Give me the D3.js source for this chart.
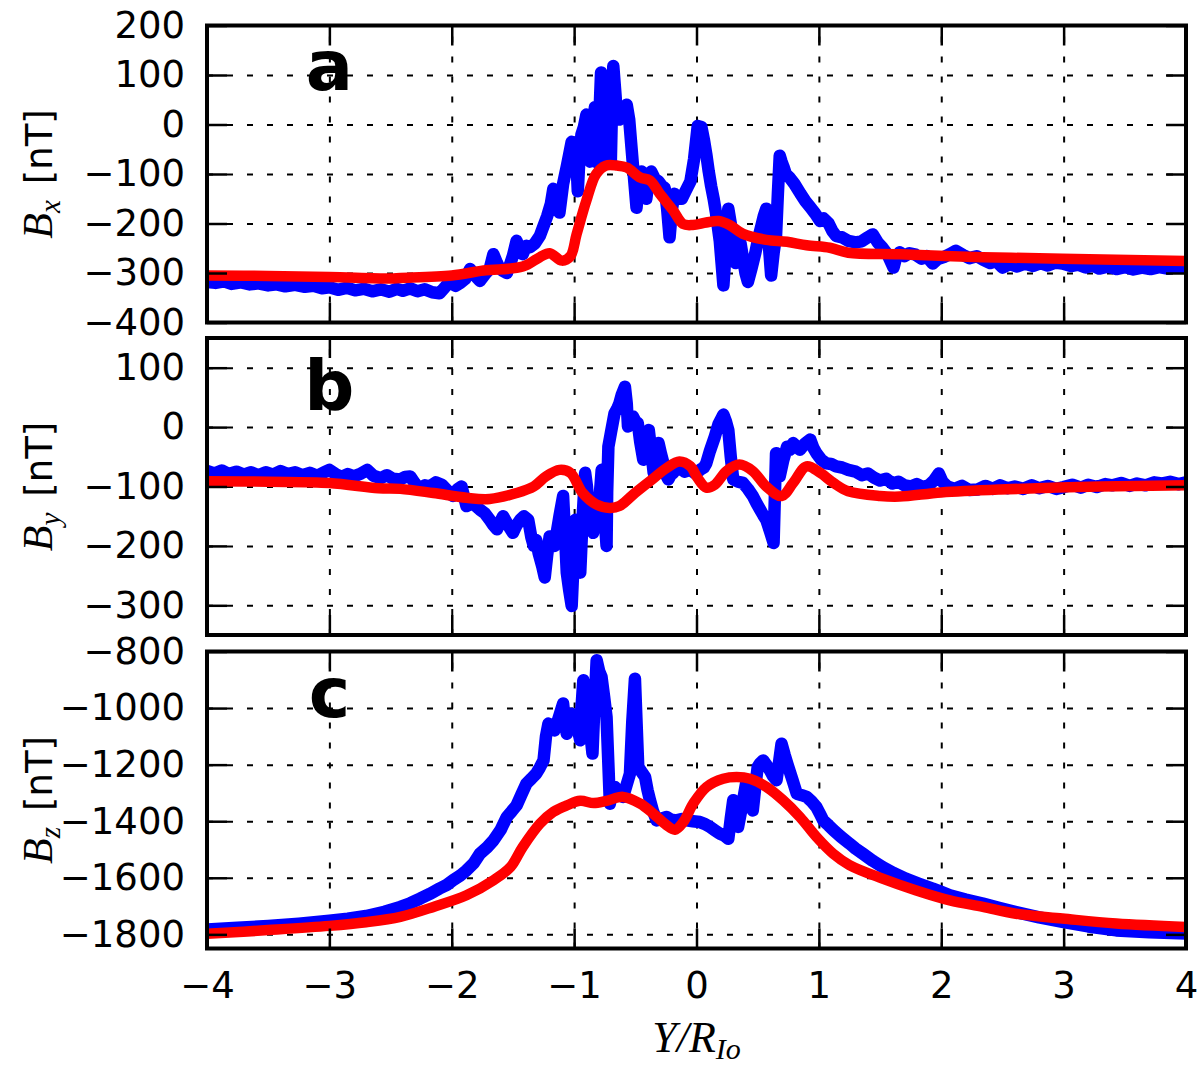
<!DOCTYPE html>
<html>
<head>
<meta charset="utf-8">
<script src="https://cdn.jsdelivr.net/npm/d3@7"></script>
<style>
  body { margin: 0; background: #fff; }
  svg { display: block; }
</style>
</head>
<body>
<div id="chart"></div>
<script>
// valores: [Y/R_Io, B en nT]
const xTicks = [-4, -3, -2, -1, 0, 1, 2, 3, 4];

const bxTicks = [-400, -300, -200, -100, 0, 100, 200];
const byTicks = [-300, -200, -100, 0, 100];
const bzTicks = [-1800, -1600, -1400, -1200, -1000, -800];

// Bx observado (azul)
const bxObs = [
  [-4.00, -318], [-3.93, -320], [-3.86, -317], [-3.80, -322], [-3.72, -319], [-3.65, -323],
  [-3.58, -321], [-3.50, -325], [-3.43, -323], [-3.36, -327], [-3.28, -324], [-3.20, -328],
  [-3.13, -326], [-3.06, -331], [-3.00, -329], [-2.93, -334], [-2.86, -330], [-2.79, -335],
  [-2.72, -332], [-2.65, -337], [-2.58, -333], [-2.51, -338], [-2.45, -332], [-2.40, -336],
  [-2.34, -331], [-2.28, -337], [-2.22, -333], [-2.16, -339], [-2.10, -341], [-2.06, -330],
  [-2.02, -318], [-1.97, -326], [-1.93, -320], [-1.89, -312], [-1.85, -292], [-1.81, -305],
  [-1.77, -316], [-1.72, -300], [-1.69, -292], [-1.66, -262], [-1.63, -280], [-1.61, -290],
  [-1.58, -296], [-1.55, -300], [-1.52, -280], [-1.50, -265], [-1.47, -235], [-1.44, -255],
  [-1.42, -262], [-1.39, -245], [-1.36, -248], [-1.32, -240], [-1.28, -225], [-1.25, -205],
  [-1.22, -185], [-1.19, -160], [-1.17, -130], [-1.14, -150], [-1.12, -178], [-1.09, -120],
  [-1.06, -85], [-1.04, -60], [-1.02, -35], [-0.99, -60], [-0.98, -80], [-0.97, -135],
  [-0.955, -60], [-0.94, -20], [-0.92, -5], [-0.90, 20], [-0.885, -20], [-0.87, -75],
  [-0.85, -10], [-0.83, 35], [-0.815, -30], [-0.80, -80], [-0.79, 40], [-0.78, 105],
  [-0.76, 60], [-0.745, 90], [-0.735, 85], [-0.72, 20], [-0.70, -75], [-0.69, 40],
  [-0.68, 118], [-0.665, 70], [-0.65, 20], [-0.63, 10], [-0.60, 30], [-0.57, 40],
  [-0.55, 10], [-0.53, -50], [-0.51, -110], [-0.49, -168], [-0.47, -110], [-0.45, -95],
  [-0.43, -120], [-0.41, -150], [-0.39, -110], [-0.37, -95], [-0.34, -110], [-0.31, -115],
  [-0.28, -125], [-0.26, -128], [-0.24, -170], [-0.22, -228], [-0.20, -170], [-0.18, -140],
  [-0.15, -150], [-0.12, -150], [-0.09, -135], [-0.05, -115], [-0.02, -70], [0.01, -3],
  [0.04, -5], [0.06, -30], [0.08, -60], [0.10, -95], [0.12, -125], [0.14, -150],
  [0.16, -180], [0.19, -235], [0.205, -280], [0.22, -325], [0.24, -250], [0.26, -170],
  [0.28, -200], [0.30, -235], [0.32, -280], [0.34, -265], [0.36, -240], [0.38, -270],
  [0.40, -300], [0.42, -318], [0.45, -290], [0.48, -260], [0.505, -230], [0.53, -205],
  [0.55, -185], [0.57, -170], [0.59, -240], [0.61, -305], [0.63, -260], [0.65, -225],
  [0.665, -140], [0.68, -63], [0.695, -75], [0.71, -85], [0.73, -100], [0.76, -107],
  [0.80, -120], [0.85, -140], [0.89, -155], [0.93, -167], [0.97, -180], [1.01, -195],
  [1.04, -190], [1.08, -200], [1.11, -215], [1.14, -225], [1.19, -228], [1.24, -235],
  [1.30, -238], [1.35, -236], [1.40, -228], [1.44, -222], [1.48, -238], [1.52, -249],
  [1.56, -262], [1.61, -289], [1.63, -270], [1.66, -258], [1.70, -266], [1.74, -260],
  [1.79, -263], [1.84, -271], [1.88, -266], [1.93, -281], [1.97, -272], [2.02, -268],
  [2.07, -262], [2.12, -255], [2.18, -264], [2.23, -270], [2.29, -266], [2.34, -273],
  [2.40, -280], [2.45, -276], [2.50, -289], [2.56, -282], [2.62, -287], [2.68, -281],
  [2.75, -286], [2.81, -280], [2.87, -285], [2.93, -279], [2.99, -281], [3.06, -286],
  [3.12, -283], [3.18, -289], [3.24, -285], [3.29, -291], [3.36, -287], [3.43, -292],
  [3.50, -288], [3.57, -293], [3.64, -289], [3.71, -292], [3.78, -288], [3.85, -291],
  [3.92, -288], [4.00, -289]
];

// Bx modelo (rojo)
const bxModel = [
  [-4.0, -305], [-3.5, -306], [-3.0, -308], [-2.5, -311], [-2.42, -310], [-2.0, -305],
  [-1.74, -295], [-1.42, -287], [-1.28, -268], [-1.20, -260], [-1.10, -275], [-1.03, -266],
  [-0.98, -222], [-0.90, -154], [-0.82, -100], [-0.74, -83], [-0.65, -83], [-0.57, -87],
  [-0.46, -107], [-0.38, -113], [-0.30, -140], [-0.19, -174], [-0.11, -201], [-0.03, -203],
  [0.08, -198], [0.18, -195], [0.27, -203], [0.38, -221], [0.57, -233], [0.74, -237],
  [0.90, -244], [1.09, -249], [1.24, -259], [1.66, -262], [2.34, -268], [2.99, -271],
  [4.0, -276]
];

// By observado (azul)
const byObs = [
  [-4.00, -74], [-3.94, -78], [-3.88, -73], [-3.82, -79], [-3.76, -75], [-3.70, -80],
  [-3.64, -76], [-3.58, -81], [-3.52, -76], [-3.46, -80], [-3.40, -74], [-3.34, -79],
  [-3.28, -76], [-3.22, -81], [-3.16, -77], [-3.10, -82], [-3.04, -76], [-3.00, -72],
  [-2.95, -79], [-2.90, -84], [-2.85, -79], [-2.80, -83], [-2.74, -78], [-2.69, -72],
  [-2.64, -82], [-2.58, -86], [-2.53, -81], [-2.48, -87], [-2.42, -88], [-2.38, -84],
  [-2.34, -83], [-2.30, -95], [-2.26, -105], [-2.22, -98], [-2.18, -100], [-2.13, -93],
  [-2.08, -97], [-2.03, -108], [-1.99, -116], [-1.95, -104], [-1.92, -100], [-1.88, -133],
  [-1.83, -128], [-1.77, -139], [-1.73, -145], [-1.69, -156], [-1.66, -165], [-1.63, -172],
  [-1.60, -158], [-1.58, -150], [-1.54, -165], [-1.50, -178], [-1.47, -165], [-1.44, -156],
  [-1.41, -150], [-1.375, -156], [-1.35, -185], [-1.33, -200], [-1.31, -190], [-1.29, -212],
  [-1.26, -235], [-1.24, -253], [-1.22, -215], [-1.20, -184], [-1.18, -195], [-1.16, -200],
  [-1.12, -150], [-1.09, -116], [-1.075, -180], [-1.06, -245], [-1.04, -275], [-1.02, -301],
  [-1.005, -230], [-0.99, -156], [-0.97, -200], [-0.95, -245], [-0.93, -150], [-0.91, -77],
  [-0.895, -100], [-0.885, -133], [-0.865, -160], [-0.845, -178], [-0.82, -150], [-0.80, -133],
  [-0.785, -100], [-0.775, -72], [-0.755, -140], [-0.735, -200], [-0.73, -110], [-0.72, -33],
  [-0.70, -10], [-0.67, 23], [-0.65, 30], [-0.63, 40], [-0.61, 55], [-0.585, 68],
  [-0.57, 40], [-0.56, 1], [-0.54, 10], [-0.52, 18], [-0.50, 10], [-0.48, 7],
  [-0.46, -25], [-0.435, -55], [-0.41, -25], [-0.39, -5], [-0.37, -40], [-0.35, -77],
  [-0.33, -45], [-0.31, -27], [-0.29, -45], [-0.27, -61], [-0.25, -80], [-0.23, -88],
  [-0.21, -80], [-0.19, -77], [-0.165, -70], [-0.14, -66], [-0.10, -75], [-0.05, -72],
  [-0.01, -78], [0.03, -72], [0.06, -68], [0.08, -61], [0.11, -40], [0.15, -16],
  [0.18, 5], [0.22, 21], [0.24, 10], [0.26, -5], [0.28, -50], [0.30, -88],
  [0.34, -92], [0.38, -94], [0.42, -104], [0.46, -116], [0.49, -128], [0.52, -139],
  [0.545, -148], [0.57, -156], [0.60, -175], [0.63, -195], [0.64, -120], [0.65, -44],
  [0.665, -60], [0.68, -83], [0.71, -55], [0.74, -33], [0.765, -38], [0.79, -27],
  [0.815, -32], [0.845, -38], [0.885, -28], [0.93, -21], [0.955, -35], [0.98, -44],
  [1.02, -55], [1.06, -61], [1.10, -62], [1.14, -66], [1.19, -68], [1.24, -72],
  [1.30, -75], [1.35, -81], [1.40, -78], [1.45, -85], [1.50, -90], [1.55, -87],
  [1.60, -95], [1.65, -92], [1.70, -98], [1.75, -100], [1.80, -96], [1.85, -101],
  [1.90, -98], [1.94, -90], [1.98, -78], [2.01, -92], [2.05, -100], [2.11, -104],
  [2.17, -99], [2.23, -106], [2.30, -105], [2.36, -99], [2.42, -104], [2.48, -98],
  [2.54, -103], [2.60, -100], [2.67, -104], [2.74, -98], [2.80, -103], [2.87, -99],
  [2.94, -104], [3.00, -101], [3.07, -97], [3.14, -102], [3.20, -97], [3.27, -101],
  [3.34, -96], [3.40, -98], [3.47, -94], [3.54, -99], [3.60, -95], [3.67, -98],
  [3.74, -93], [3.80, -95], [3.87, -92], [3.94, -96], [4.00, -93]
];

// By modelo (rojo)
const byModel = [
  [-4.0, -91], [-3.5, -92], [-3.0, -94], [-2.6, -103], [-2.42, -104], [-2.15, -111],
  [-1.88, -119], [-1.69, -121], [-1.47, -111], [-1.33, -100], [-1.23, -83], [-1.12, -72],
  [-1.03, -77], [-0.93, -111], [-0.82, -130], [-0.71, -136], [-0.63, -133], [-0.52, -114],
  [-0.38, -91], [-0.245, -69], [-0.14, -58], [-0.05, -66], [0.01, -86], [0.08, -102],
  [0.15, -97], [0.245, -74], [0.35, -63], [0.46, -74], [0.57, -100], [0.695, -116],
  [0.79, -94], [0.90, -66], [1.01, -77], [1.12, -94], [1.24, -108], [1.50, -116],
  [1.66, -117], [2.0, -110], [2.48, -105], [3.3, -100], [4.0, -98]
];

// Bz observado (azul)
const bzObs = [
  [-4.0, -1783], [-3.75, -1777], [-3.5, -1770], [-3.25, -1762], [-3.0, -1752], [-2.85, -1745],
  [-2.7, -1735], [-2.55, -1720], [-2.42, -1703], [-2.34, -1690], [-2.26, -1674], [-2.18, -1657],
  [-2.10, -1638], [-2.04, -1625], [-1.99, -1609], [-1.93, -1592], [-1.88, -1574], [-1.82, -1548],
  [-1.77, -1515], [-1.71, -1492], [-1.66, -1468], [-1.60, -1430], [-1.55, -1385], [-1.51, -1365],
  [-1.47, -1344], [-1.43, -1305], [-1.39, -1267], [-1.35, -1250], [-1.31, -1232], [-1.28, -1210],
  [-1.25, -1185], [-1.23, -1100], [-1.21, -1055], [-1.185, -1075], [-1.16, -1079], [-1.13, -1040],
  [-1.09, -984], [-1.075, -1050], [-1.06, -1091], [-1.04, -1050], [-1.02, -1020], [-1.00, -1040],
  [-0.98, -1055], [-0.965, -1085], [-0.95, -1114], [-0.94, -1000], [-0.925, -902], [-0.905, -960],
  [-0.885, -1020], [-0.865, -1100], [-0.85, -1161], [-0.835, -1000], [-0.816, -831], [-0.795, -870],
  [-0.776, -890], [-0.755, -960], [-0.735, -1032], [-0.72, -1200], [-0.708, -1338], [-0.69, -1300],
  [-0.667, -1279], [-0.635, -1300], [-0.60, -1314], [-0.57, -1270], [-0.544, -1232], [-0.525, -1050],
  [-0.503, -896], [-0.49, -1050], [-0.476, -1208], [-0.45, -1225], [-0.42, -1244], [-0.40, -1290],
  [-0.38, -1326], [-0.355, -1365], [-0.326, -1397], [-0.285, -1390], [-0.245, -1385], [-0.205, -1395],
  [-0.163, -1397], [-0.12, -1392], [-0.081, -1397], [-0.03, -1400], [0.028, -1403], [0.07, -1410],
  [0.11, -1420], [0.15, -1432], [0.19, -1444], [0.225, -1450], [0.26, -1462], [0.28, -1390],
  [0.30, -1326], [0.32, -1370], [0.34, -1420], [0.375, -1340], [0.41, -1255], [0.435, -1310],
  [0.46, -1362], [0.48, -1280], [0.50, -1208], [0.52, -1195], [0.545, -1185], [0.57, -1200],
  [0.60, -1220], [0.625, -1240], [0.654, -1255], [0.675, -1190], [0.695, -1126], [0.72, -1165],
  [0.75, -1208], [0.785, -1255], [0.82, -1303], [0.86, -1308], [0.90, -1314], [0.94, -1330],
  [0.98, -1350], [1.01, -1375], [1.035, -1397], [1.08, -1415], [1.12, -1432], [1.18, -1455],
  [1.25, -1479], [1.30, -1497], [1.36, -1515], [1.44, -1540], [1.52, -1562], [1.61, -1583],
  [1.71, -1603], [1.82, -1621], [1.93, -1638], [2.00, -1650], [2.07, -1662], [2.20, -1677],
  [2.34, -1691], [2.47, -1706], [2.61, -1721], [2.80, -1740], [2.99, -1756], [3.20, -1772],
  [3.43, -1786], [3.70, -1793], [4.0, -1797]
];

// Bz modelo (rojo)
const bzModel = [
  [-4.0, -1798], [-3.5, -1785], [-3.0, -1770], [-2.7, -1757], [-2.42, -1738], [-2.15, -1703],
  [-1.88, -1662], [-1.66, -1609], [-1.52, -1562], [-1.42, -1491], [-1.28, -1409], [-1.17, -1367],
  [-1.06, -1344], [-0.95, -1328], [-0.84, -1336], [-0.735, -1328], [-0.60, -1314], [-0.46, -1338],
  [-0.354, -1373], [-0.245, -1414], [-0.177, -1430], [-0.108, -1403], [-0.027, -1338], [0.082, -1279],
  [0.218, -1250], [0.327, -1244], [0.437, -1250], [0.572, -1279], [0.708, -1326], [0.845, -1385],
  [0.981, -1456], [1.117, -1515], [1.25, -1555], [1.52, -1603], [1.79, -1644], [2.07, -1680],
  [2.34, -1703], [2.61, -1727], [2.99, -1744], [3.43, -1762], [4.0, -1774]
];

// medidas de la figura
const width = 1200;
const height = 1068;
const margin = { left: 207, right: 14 };
const panelH = 297;

const paneles = [
  { top: 25.5, dominio: [-400, 200], ticks: bxTicks, obs: bxObs, modelo: bxModel, comp: 'x', letra: 'a', letraY: 64 },
  { top: 338, dominio: [-350, 150], ticks: byTicks, obs: byObs, modelo: byModel, comp: 'y', letra: 'b', letraY: 72 },
  { top: 651.5, dominio: [-1850, -800], ticks: bzTicks, obs: bzObs, modelo: bzModel, comp: 'z', letra: 'c', letraY: 65 }
];

const svg = d3.select('#chart')
  .append('svg')
  .attr('width', width)
  .attr('height', height)
  .attr('viewBox', [0, 0, width, height])
  .style('background', '#fff');

const x = d3.scaleLinear()
  .domain([-4, 4])
  .range([margin.left, width - margin.right]);

const plotW = x.range()[1] - x.range()[0];
const fmt = d3.format('');

paneles.forEach((p, i) => {
  const y = d3.scaleLinear().domain(p.dominio).range([p.top + panelH, p.top]);
  const g = svg.append('g');

  // rejilla punteada
  g.append('g')
    .attr('transform', `translate(${margin.left},0)`)
    .call(d3.axisLeft(y).tickValues(p.ticks).tickSize(-plotW).tickFormat(''))
    .call(s => s.select('.domain').remove())
    .selectAll('line')
    .attr('stroke', '#000').attr('stroke-width', 2).attr('stroke-dasharray', '6,14');

  g.append('g')
    .attr('transform', `translate(0,${p.top + panelH})`)
    .call(d3.axisBottom(x).tickValues(xTicks).tickSize(-panelH).tickFormat(''))
    .call(s => s.select('.domain').remove())
    .selectAll('line')
    .attr('stroke', '#000').attr('stroke-width', 2).attr('stroke-dasharray', '6,14');

  // curvas
  const clipId = 'clip' + i;
  svg.append('clipPath').attr('id', clipId)
    .append('rect')
    .attr('x', margin.left).attr('y', p.top)
    .attr('width', plotW).attr('height', panelH);

  const lineaObs = d3.line().x(d => x(d[0])).y(d => y(d[1]));
  const lineaMod = d3.line().x(d => x(d[0])).y(d => y(d[1])).curve(d3.curveCatmullRom.alpha(0.5));

  g.append('path')
    .datum(p.obs)
    .attr('clip-path', `url(#${clipId})`)
    .attr('d', lineaObs)
    .attr('fill', 'none')
    .attr('stroke', '#0000ff')
    .attr('stroke-width', 12.5)
    .attr('stroke-linejoin', 'round')
    .attr('stroke-linecap', 'round');

  g.append('path')
    .datum(p.modelo)
    .attr('clip-path', `url(#${clipId})`)
    .attr('d', lineaMod)
    .attr('fill', 'none')
    .attr('stroke', '#ff0000')
    .attr('stroke-width', 10.5)
    .attr('stroke-linejoin', 'round')
    .attr('stroke-linecap', 'round');

  // ticks hacia dentro en los cuatro lados
  const ticksStyle = s => {
    s.select('.domain').remove();
    s.selectAll('line').attr('stroke', '#000').attr('stroke-width', 2.5);
  };

  const ejeY = g.append('g')
    .attr('transform', `translate(${margin.left},0)`)
    .call(d3.axisLeft(y).tickValues(p.ticks).tickSize(-20).tickPadding(22).tickFormat(fmt))
    .call(ticksStyle);
  ejeY.selectAll('text')
    .attr('fill', '#000')
    .style('font-family', '"DejaVu Sans", sans-serif')
    .style('font-size', '37px');

  g.append('g')
    .attr('transform', `translate(${x.range()[1]},0)`)
    .call(d3.axisRight(y).tickValues(p.ticks).tickSize(-20).tickFormat(''))
    .call(ticksStyle);

  g.append('g')
    .attr('transform', `translate(0,${p.top})`)
    .call(d3.axisTop(x).tickValues(xTicks).tickSize(-20).tickFormat(''))
    .call(ticksStyle);

  const ejeX = g.append('g')
    .attr('transform', `translate(0,${p.top + panelH})`)
    .call(d3.axisBottom(x).tickValues(xTicks).tickSize(-20).tickPadding(23)
      .tickFormat(i === paneles.length - 1 ? fmt : ''))
    .call(ticksStyle);
  ejeX.selectAll('text')
    .attr('fill', '#000')
    .style('font-family', '"DejaVu Sans", sans-serif')
    .style('font-size', '37px');

  // marco
  g.append('rect')
    .attr('x', margin.left).attr('y', p.top)
    .attr('width', plotW).attr('height', panelH)
    .attr('fill', 'none')
    .attr('stroke', '#000')
    .attr('stroke-width', 4);

  // letra del panel
  g.append('text')
    .attr('x', x(-3))
    .attr('y', p.top + p.letraY)
    .attr('text-anchor', 'middle')
    .style('font-family', '"DejaVu Sans", sans-serif')
    .style('font-weight', 'bold')
    .style('font-size', '70px')
    .text(p.letra);

  // etiqueta del eje y
  const lab = g.append('text')
    .attr('transform', `translate(52,${p.top + panelH / 2}) rotate(-90)`)
    .attr('text-anchor', 'middle')
    .attr('fill', '#000');
  lab.append('tspan')
    .style('font-family', '"Liberation Serif", serif')
    .style('font-style', 'italic')
    .style('font-size', '42px')
    .text('B');
  lab.append('tspan')
    .attr('dy', 8)
    .style('font-family', '"Liberation Serif", serif')
    .style('font-style', 'italic')
    .style('font-size', '29px')
    .text(p.comp);
  lab.append('tspan')
    .attr('dy', -8)
    .attr('dx', 16)
    .style('font-family', '"DejaVu Sans", sans-serif')
    .style('font-size', '37px')
    .text('[nT]');
});

// etiqueta del eje x
const xlab = svg.append('text')
  .attr('x', x(0))
  .attr('y', 1052)
  .attr('text-anchor', 'middle')
  .attr('fill', '#000')
  .style('font-family', '"Liberation Serif", serif')
  .style('font-style', 'italic');
xlab.append('tspan').style('font-size', '44px').text('Y/R');
xlab.append('tspan').attr('dy', 7).style('font-size', '30px').text('Io');
</script>
</body>
</html>
